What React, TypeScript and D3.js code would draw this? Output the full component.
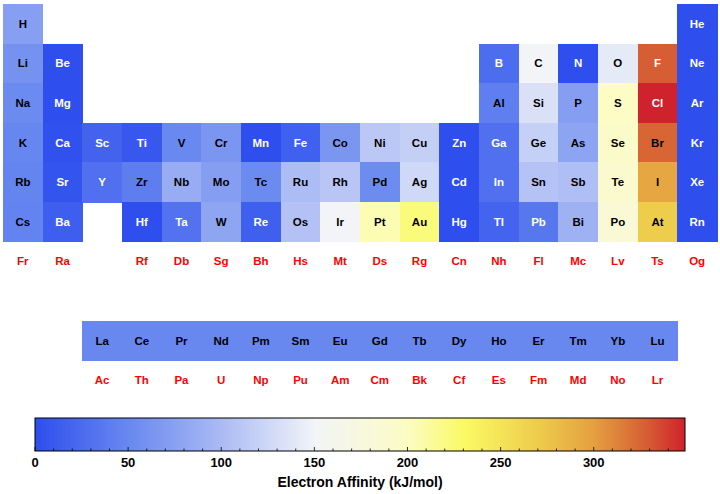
import React from "react";
import * as d3 from "d3";

// Main table rows (18 columns, "" = empty)
const row1 = ["H", "", "", "", "", "", "", "", "", "", "", "", "", "", "", "", "", "He"];
const row2 = ["Li", "Be", "", "", "", "", "", "", "", "", "", "", "B", "C", "N", "O", "F", "Ne"];
const row3 = ["Na", "Mg", "", "", "", "", "", "", "", "", "", "", "Al", "Si", "P", "S", "Cl", "Ar"];
const row4 = ["K", "Ca", "Sc", "Ti", "V", "Cr", "Mn", "Fe", "Co", "Ni", "Cu", "Zn", "Ga", "Ge", "As", "Se", "Br", "Kr"];
const row5 = ["Rb", "Sr", "Y", "Zr", "Nb", "Mo", "Tc", "Ru", "Rh", "Pd", "Ag", "Cd", "In", "Sn", "Sb", "Te", "I", "Xe"];
const row6 = ["Cs", "Ba", "", "Hf", "Ta", "W", "Re", "Os", "Ir", "Pt", "Au", "Hg", "Tl", "Pb", "Bi", "Po", "At", "Rn"];
const row7 = ["Fr", "Ra", "", "Rf", "Db", "Sg", "Bh", "Hs", "Mt", "Ds", "Rg", "Cn", "Nh", "Fl", "Mc", "Lv", "Ts", "Og"];
const lanthanides = ["La", "Ce", "Pr", "Nd", "Pm", "Sm", "Eu", "Gd", "Tb", "Dy", "Ho", "Er", "Tm", "Yb", "Lu"];
const actinides = ["Ac", "Th", "Pa", "U", "Np", "Pu", "Am", "Cm", "Bk", "Cf", "Es", "Fm", "Md", "No", "Lr"];

// Electron affinity values (kJ/mol), null = no data
const ea1 = [72.8, null, null, null, null, null, null, null, null, null, null, null, null, null, null, null, null, 0];
const ea2 = [59.6, 0, null, null, null, null, null, null, null, null, null, null, 26.7, 150, 0, 141, 328, 0];
const ea3 = [52.8, 0, null, null, null, null, null, null, null, null, null, null, 42.5, 133.6, 72, 200, 349, 0];
const ea4 = [48.4, 2.4, 18.1, 7.6, 50.6, 64.3, 0, 15.7, 63.7, 112, 118.4, 0, 28.9, 119, 78, 195, 324.6, 0];
const ea5 = [46.9, 5.0, 29.6, 41.1, 86.1, 71.9, 53, 101.3, 109.7, 53.7, 125.6, 0, 28.9, 107.3, 103.2, 190.2, 295.2, 0];
const ea6 = [45.5, 13.9, null, 0, 31, 78.6, 14.5, 106.1, 151, 205.3, 222.8, 0, 19.2, 35.1, 91.2, 183.3, 270, 0];
const eaLan = [50, 50, 50, 50, 50, 50, 50, 50, 50, 50, 50, 50, 50, 50, 50];

// Colour map stops (value -> colour)
const cmapValues = [0, 50, 100, 150, 200, 230, 270, 300, 328, 349];
const cmapColors = ["#2e4eee", "#6888f0", "#aabaf4", "#f2f4f8", "#fcfcc4", "#fafa64", "#eecc4c", "#e4a040", "#d65e34", "#d0222c"];

const colorTicks = [0, 50, 100, 150, 200, 250, 300];
const colorMax = 349;
const colorbarTitle = "Electron Affinity (kJ/mol)";

const W = 720;
const H = 494;
const FONT = "'Liberation Sans', Arial, Helvetica, sans-serif";

export default function App() {
  const x = d3.scaleLinear().domain([0, 18]).range([3, 717]);
  const y = d3.scaleLinear().domain([0, 10]).range([4, 400]);
  const color = d3.scaleLinear<string>().domain(cmapValues).range(cmapColors).interpolate(d3.interpolateRgb).clamp(true);
  const cbX = d3.scaleLinear().domain([0, colorMax]).range([35, 685]);
  const cw = x(1) - x(0);
  const ch = y(1) - y(0);

  type Cell = { sym: string; col: number; row: number; v: number | null };
  const cells: Cell[] = [];
  const mainRows = [row1, row2, row3, row4, row5, row6, row7];
  const mainVals = [ea1, ea2, ea3, ea4, ea5, ea6, null];
  mainRows.forEach((r, ri) => {
    r.forEach((s, ci) => {
      if (!s) return;
      const vals = mainVals[ri];
      cells.push({ sym: s, col: ci, row: ri, v: vals ? (vals[ci] as number | null) : null });
    });
  });
  lanthanides.forEach((s, i) => cells.push({ sym: s, col: i + 2, row: 8, v: eaLan[i] }));
  actinides.forEach((s, i) => cells.push({ sym: s, col: i + 2, row: 9, v: null }));

  const textColor = (v: number | null) => (v === null ? "#ff0000" : v < 38 || v > 326 ? "#ffffff" : "#000000");

  const gradStops = d3.range(0, 101).map((i) => {
    const v = (i / 100) * colorMax;
    return { off: i, c: color(v) };
  });
  const minorTicks = d3.range(0, colorMax, 10);

  return (
    <svg width={W} height={H} style={{ position: "absolute", left: 0, top: 0 }} fontFamily={FONT}>
      <defs>
        <linearGradient id="cb" x1="0" x2="1" y1="0" y2="0">
          {gradStops.map((s) => (
            <stop key={s.off} offset={`${s.off}%`} stopColor={s.c} />
          ))}
        </linearGradient>
      </defs>
      <rect width={W} height={H} fill="#ffffff" />
      {cells.map((c) =>
        c.v !== null ? (
          <rect
            key={"r" + c.sym}
            x={x(c.col)}
            y={y(c.row)}
            width={cw + 0.6}
            height={ch + 0.6}
            fill={color(c.v)}
            shapeRendering="crispEdges"
          />
        ) : null
      )}
      {cells.map((c) => (
        <text
          key={"t" + c.sym}
          x={x(c.col) + cw / 2}
          y={y(c.row) + ch / 2}
          dy="0.34em"
          textAnchor="middle"
          fontSize={11.5}
          fontWeight="bold"
          fill={textColor(c.v)}
        >
          {c.sym}
        </text>
      ))}
      <rect x={cbX(0)} y={418} width={cbX(colorMax) - cbX(0)} height={33} fill="url(#cb)" stroke="#000" strokeWidth={1} />
      {minorTicks.map((t) => (
        <line key={t} x1={cbX(t)} x2={cbX(t)} y1={451} y2={t % 50 === 0 ? 447 : 448.5} stroke="#000" strokeWidth={0.8} />
      ))}
      {colorTicks.map((t) => (
        <text key={t} x={cbX(t)} y={466.5} textAnchor="middle" fontSize={13} fontWeight="bold" fill="#000">
          {t}
        </text>
      ))}
      <text x={360} y={486.5} textAnchor="middle" fontSize={14} fontWeight="bold" fill="#000">
        {colorbarTitle}
      </text>
    </svg>
  );
}
